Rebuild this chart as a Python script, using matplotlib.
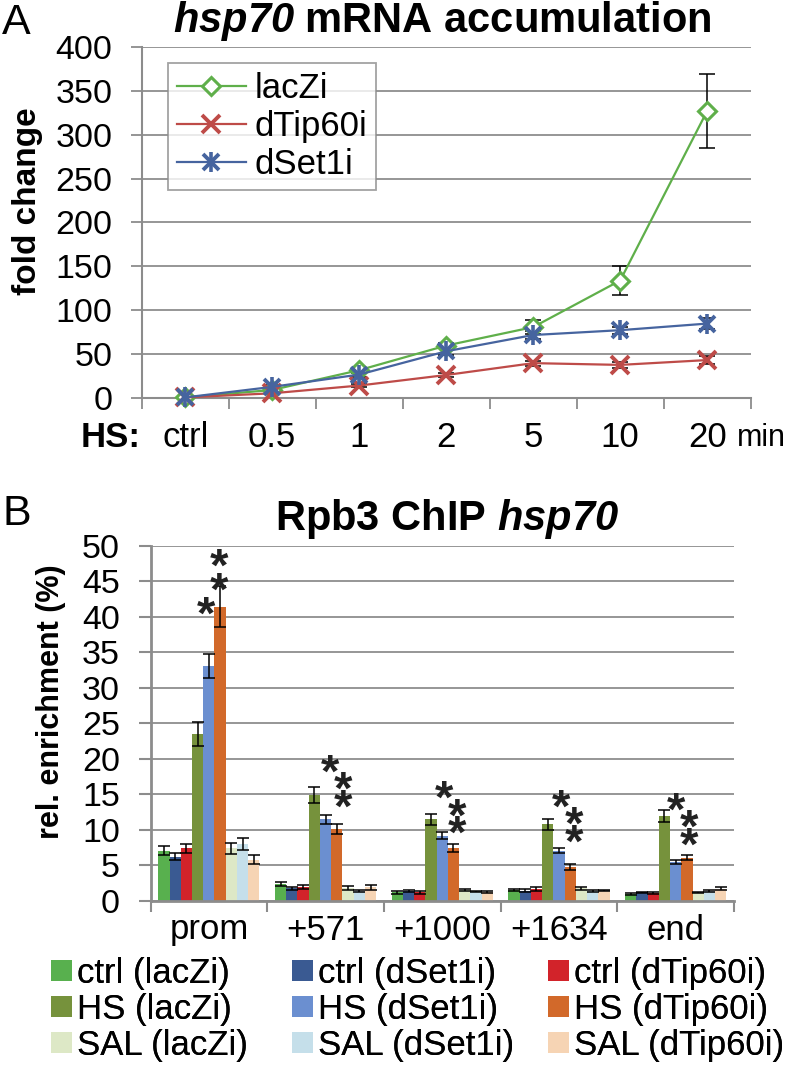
import matplotlib
matplotlib.use('Agg')
import matplotlib.pyplot as plt
import numpy as np
from matplotlib.legend_handler import HandlerTuple
from matplotlib.transforms import ScaledTranslation

plt.rcParams['font.family'] = ['Liberation Sans', 'DejaVu Sans']
plt.rcParams['mathtext.fontset'] = 'custom'
plt.rcParams['mathtext.bfit'] = 'Liberation Sans:italic:bold'
plt.rcParams['mathtext.rm'] = 'Liberation Sans'
plt.rcParams['mathtext.bf'] = 'Liberation Sans:bold'

# ---------------- Panel A data ----------------
time_labels = ['ctrl', '0.5', '1', '2', '5', '10', '20']
lacZi = [1, 9.5, 32, 60, 81, 134, 327]
lacZi_err = [1, 2, 3, 3, 8, 17, 42]
dTip60i = [1, 5.7, 14.5, 26.5, 40, 38, 43.5]
dTip60i_err = [0.5, 1, 2, 2, 3, 3, 5]
dSet1i = [1, 13, 27, 53.5, 72, 77.5, 85]
dSet1i_err = [0.5, 2, 3, 4, 5, 4, 6]

# ---------------- Panel B data ----------------
regions = ['prom', '+571', '+1000', '+1634', 'end']
series_names = ['ctrl (lacZi)', 'ctrl (dSet1i)', 'ctrl (dTip60i)',
                'HS (lacZi)', 'HS (dSet1i)', 'HS (dTip60i)',
                'SAL (lacZi)', 'SAL (dSet1i)', 'SAL (dTip60i)']
ctrl_lacZi = [7.1, 2.35, 1.2, 1.5, 1.0]
ctrl_lacZi_err = [0.6, 0.3, 0.15, 0.15, 0.1]
ctrl_dSet1i = [6.2, 1.8, 1.4, 1.45, 1.2]
ctrl_dSet1i_err = [0.5, 0.2, 0.15, 0.2, 0.1]
ctrl_dTip60i = [7.4, 2.0, 1.2, 1.7, 1.1]
ctrl_dTip60i_err = [0.65, 0.25, 0.15, 0.25, 0.1]
HS_lacZi = [23.5, 14.9, 11.5, 10.8, 11.9]
HS_lacZi_err = [1.65, 1.1, 0.8, 0.8, 0.85]
HS_dSet1i = [33.1, 11.5, 9.2, 7.1, 5.5]
HS_dSet1i_err = [1.7, 0.6, 0.5, 0.4, 0.3]
HS_dTip60i = [41.4, 10.1, 7.5, 4.8, 6.1]
HS_dTip60i_err = [2.9, 0.7, 0.55, 0.4, 0.35]
SAL_lacZi = [7.4, 1.8, 1.5, 1.8, 1.2]
SAL_lacZi_err = [0.8, 0.25, 0.15, 0.2, 0.1]
SAL_dSet1i = [8.0, 1.45, 1.35, 1.45, 1.45]
SAL_dSet1i_err = [0.85, 0.15, 0.1, 0.15, 0.15]
SAL_dTip60i = [5.8, 1.9, 1.25, 1.45, 1.7]
SAL_dTip60i_err = [0.65, 0.3, 0.1, 0.1, 0.2]

# significance asterisks: one block per region (x in category units, y of top star in %)
star_x = [0.031, 1.094, 2.071, 3.075, 4.061]
star_y = [48.7, 19.8, 16.1, 14.9, 14.45]
star_text = [' *\n *\n*', '*\n *\n *', '*\n *\n *', '*\n *\n *', '*\n *\n *']
star_linespacing = [0.4, 0.22, 0.22, 0.22, 0.22]

bar_colors = ['#58B04E', '#3A5A92', '#D2232A',
              '#76923C', '#6B8FD0', '#D2692A',
              '#DDE8C6', '#C5DFEA', '#F6D4B4']

W, H = 786, 1069
fig = plt.figure(figsize=(W / 100, H / 100), dpi=100)


def fx(px):
    return px / W


def fy(py):
    return 1 - py / H


GRID = '#969696'
AX = '#8C8C8C'

# ================= Panel A =================
axA = fig.add_axes([fx(141.7), fy(398.3), (750.7 - 141.7) / W, (398.3 - 46.7) / H])
x = np.arange(len(time_labels))
axA.set_xlim(-0.5, len(time_labels) - 0.5)
axA.set_ylim(0, 400)
axA.set_yticks(np.arange(0, 401, 50))
axA.yaxis.grid(True, color=GRID, lw=1.4)
axA.set_axisbelow(True)
for s in ['top', 'right']:
    axA.spines[s].set_visible(False)
for s in ['left', 'bottom']:
    axA.spines[s].set_color(AX)
    axA.spines[s].set_linewidth(1.5)
axA.set_xticks(x)
axA.set_xticklabels(time_labels)
axA.set_xticks(np.arange(-0.5, len(time_labels)), minor=True)
axA.tick_params(axis='x', which='major', length=0, labelsize=25, pad=16)
axA.tick_params(axis='x', which='minor', length=8, width=1.3, color=AX, direction='out')
axA.tick_params(axis='y', which='major', length=8, width=1.3, color=AX, labelsize=24.5, pad=13)

c_lac = '#5FAF4A'
c_tip = '#BE4B48'
c_set = '#46649F'
for vals, errs in [(lacZi, lacZi_err), (dTip60i, dTip60i_err), (dSet1i, dSet1i_err)]:
    axA.errorbar(x, vals, yerr=errs, fmt='none', ecolor='black', elinewidth=1.1,
                 capsize=5.5, capthick=1.1, zorder=2, clip_on=False)
l_lac, = axA.plot(x, lacZi, color=c_lac, lw=1.6, marker='D', ms=9.5, mfc='white',
                  mec=c_lac, mew=2.2, zorder=3, clip_on=False)
l_tip, = axA.plot(x, dTip60i, color=c_tip, lw=1.6, marker='x', ms=13, mec=c_tip,
                  mew=2.8, zorder=3, clip_on=False)
l_set, = axA.plot(x, dSet1i, color=c_set, lw=1.6, marker='x', ms=12, mec=c_set,
                  mew=2.8, zorder=4, clip_on=False)
l_set2, = axA.plot(x, dSet1i, color=c_set, lw=0, marker='|', ms=15, mec=c_set,
                   mew=2.6, zorder=4, clip_on=False)

legA = fig.legend([l_lac, l_tip, (l_set, l_set2)], ['lacZi', 'dTip60i', 'dSet1i'],
                  handler_map={tuple: HandlerTuple(ndivide=1, pad=0)},
                  loc='upper left', bbox_to_anchor=(fx(168), fy(63)),
                  fontsize=25, frameon=True, fancybox=False, edgecolor='#8C8C8C',
                  handlelength=2.0, handletextpad=0.25, borderpad=0.25,
                  labelspacing=0.15, borderaxespad=0)
legA.get_frame().set_linewidth(1.3)

fig.text(fx(442), fy(21), r'$\mathbfit{hsp70}$ mRNA accumulation', fontsize=30,
         fontweight='bold', ha='center', va='center')
fig.text(fx(2), fy(23), 'A', fontsize=31, ha='left', va='center')
fig.text(fx(28), fy(201), 'fold change', fontsize=24, fontweight='bold',
         rotation=90, ha='center', va='center')
fig.text(fx(111), fy(438), 'HS:', fontsize=25, fontweight='bold', ha='center', va='center')
fig.text(fx(786), fy(438), 'min', fontsize=22, ha='right', va='center')

# ================= Panel B =================
axB = fig.add_axes([fx(150.5), fy(901), (734 - 150.5) / W, (901 - 545.7) / H])
xb = np.arange(len(regions))
axB.set_xlim(-0.5, len(regions) - 0.5)
axB.set_ylim(0, 50)
axB.set_yticks(np.arange(0, 51, 5))
axB.yaxis.grid(True, color=GRID, lw=1.4)
axB.set_axisbelow(True)
for s in ['top', 'right']:
    axB.spines[s].set_visible(False)
for s in ['left', 'bottom']:
    axB.spines[s].set_color(AX)
    axB.spines[s].set_linewidth(2.0)
axB.set_xticks(xb)
axB.set_xticklabels(regions)
axB.set_xticks(np.arange(-0.5, len(regions)), minor=True)
axB.tick_params(axis='x', which='major', length=0, labelsize=25, pad=9)
axB.tick_params(axis='x', which='minor', length=8, width=1.5, color=AX, direction='out')
axB.tick_params(axis='y', which='major', length=9, width=1.5, color=AX, labelsize=24.5, pad=13)

series_vals = [ctrl_lacZi, ctrl_dSet1i, ctrl_dTip60i,
               HS_lacZi, HS_dSet1i, HS_dTip60i,
               SAL_lacZi, SAL_dSet1i, SAL_dTip60i]
series_errs = [ctrl_lacZi_err, ctrl_dSet1i_err, ctrl_dTip60i_err,
               HS_lacZi_err, HS_dSet1i_err, HS_dTip60i_err,
               SAL_lacZi_err, SAL_dSet1i_err, SAL_dTip60i_err]
bw = 0.0963
bar_handles = []
for i, (vals, errs) in enumerate(zip(series_vals, series_errs)):
    b = axB.bar(xb + (i - 4) * bw, vals, bw, color=bar_colors[i], yerr=errs,
                error_kw=dict(ecolor='black', elinewidth=1.1, capsize=4.2, capthick=1.1),
                zorder=2, label=series_names[i])
    bar_handles.append(b)

STAR_FS = 34
star_off = ScaledTranslation(0, 0.16 * STAR_FS / 72, fig.dpi_scale_trans)
for sx, sy, st, ls in zip(star_x, star_y, star_text, star_linespacing):
    axB.text(sx, sy, st, fontsize=STAR_FS, fontweight='bold', ha='center', va='top',
             multialignment='left', linespacing=ls, color='#222222',
             transform=axB.transData + star_off)

fig.text(fx(447), fy(519), r'Rpb3 ChIP $\mathbfit{hsp70}$', fontsize=30,
         fontweight='bold', ha='center', va='center')
fig.text(fx(2), fy(514), 'B', fontsize=31, ha='left', va='center')
fig.text(fx(51), fy(702), 'rel. enrichment (%)', fontsize=22, fontweight='bold',
         rotation=90, ha='center', va='center')

# legend: three columns, each anchored separately
col_x = [51, 292, 548]
for c in range(3):
    idx = [c, c + 3, c + 6]
    lg = fig.legend([bar_handles[k] for k in idx], [series_names[k] for k in idx],
                    loc='upper left', bbox_to_anchor=(fx(col_x[c]), fy(957)),
                    fontsize=25, frameon=False, handlelength=0.6, handleheight=0.55,
                    handletextpad=0.15, labelspacing=0.08, borderpad=0, borderaxespad=0)
    fig.add_artist(lg)

fig.savefig('out.png', dpi=100)
